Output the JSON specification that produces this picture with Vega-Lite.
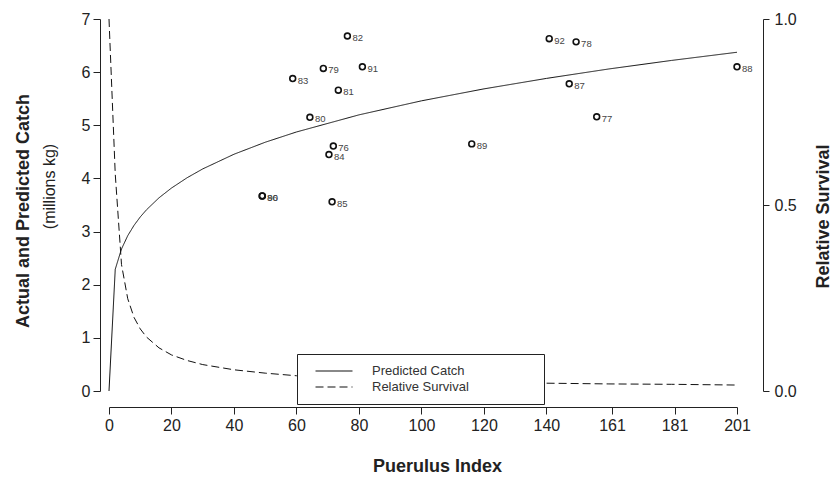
{
  "$schema": "https://vega.github.io/schema/vega-lite/v6.json",
  "width": 628,
  "height": 372,
  "autosize": {"type": "none"},
  "padding": {"left": 109, "top": 19, "right": 100, "bottom": 95},
  "background": "white",
  "config": {
    "view": {"stroke": null},
    "font": "Liberation Sans",
    "axis": {
      "grid": false,
      "domainColor": "#222",
      "tickColor": "#222",
      "labelColor": "#222",
      "titleColor": "#222",
      "labelFont": "Liberation Sans",
      "titleFont": "Liberation Sans",
      "labelFontSize": 16,
      "domainWidth": 1,
      "tickWidth": 1
    }
  },
  "title": {
    "text": "Actual and Predicted Catch",
    "orient": "left",
    "anchor": "middle",
    "font": "Liberation Sans",
    "fontSize": 18,
    "fontWeight": "bold",
    "color": "#222",
    "offset": 8,
    "dx": -6
  },
  "datasets": {
    "curve": [
      {"puerulus": 0, "catch": 0, "survival": 1},
      {"puerulus": 2, "catch": 2.291, "survival": 0.583},
      {"puerulus": 4, "catch": 2.672, "survival": 0.34},
      {"puerulus": 6, "catch": 2.923, "survival": 0.248},
      {"puerulus": 8, "catch": 3.116, "survival": 0.198},
      {"puerulus": 10, "catch": 3.275, "survival": 0.167},
      {"puerulus": 12, "catch": 3.41, "survival": 0.145},
      {"puerulus": 16, "catch": 3.635, "survival": 0.116},
      {"puerulus": 20, "catch": 3.819, "survival": 0.097},
      {"puerulus": 25, "catch": 4.013, "survival": 0.082},
      {"puerulus": 30, "catch": 4.179, "survival": 0.071},
      {"puerulus": 40, "catch": 4.455, "survival": 0.057},
      {"puerulus": 50, "catch": 4.681, "survival": 0.048},
      {"puerulus": 60, "catch": 4.874, "survival": 0.041},
      {"puerulus": 80, "catch": 5.196, "survival": 0.033},
      {"puerulus": 100, "catch": 5.46, "survival": 0.028},
      {"puerulus": 120, "catch": 5.685, "survival": 0.024},
      {"puerulus": 140, "catch": 5.882, "survival": 0.021},
      {"puerulus": 160, "catch": 6.06, "survival": 0.019},
      {"puerulus": 180, "catch": 6.22, "survival": 0.018},
      {"puerulus": 201, "catch": 6.374, "survival": 0.016}
    ],
    "years": [
      {"year": "76", "puerulus": 71.8, "catch": 4.61},
      {"year": "77", "puerulus": 156.1, "catch": 5.16},
      {"year": "78", "puerulus": 149.5, "catch": 6.57},
      {"year": "79", "puerulus": 68.6, "catch": 6.07},
      {"year": "80", "puerulus": 64.3, "catch": 5.15},
      {"year": "81", "puerulus": 73.4, "catch": 5.66},
      {"year": "82", "puerulus": 76.3, "catch": 6.68},
      {"year": "83", "puerulus": 58.8, "catch": 5.88},
      {"year": "84", "puerulus": 70.4, "catch": 4.45},
      {"year": "85", "puerulus": 71.4, "catch": 3.56},
      {"year": "86", "puerulus": 49.0, "catch": 3.67},
      {"year": "87", "puerulus": 147.3, "catch": 5.78},
      {"year": "88", "puerulus": 201.0, "catch": 6.1},
      {"year": "89", "puerulus": 116.1, "catch": 4.65},
      {"year": "90", "puerulus": 49.1, "catch": 3.67},
      {"year": "91", "puerulus": 81.1, "catch": 6.1},
      {"year": "92", "puerulus": 140.9, "catch": 6.63}
    ]
  },
  "layer": [
    {
      "layer": [
        {
          "data": {"name": "curve"},
          "mark": {"type": "line", "color": "#111", "strokeWidth": 1},
          "encoding": {
            "x": {
              "field": "puerulus",
              "type": "quantitative",
              "scale": {"domain": [0, 201], "nice": false, "zero": false},
              "axis": {
                "title": "Puerulus Index",
                "titleFontSize": 18,
                "titleFontWeight": "bold",
                "titleX": 328,
                "titleY": 59,
                "titleBaseline": "middle",
                "titleAlign": "center",
                "offset": 16,
                "values": [0, 20, 40, 60, 80, 100, 120, 140, 161, 181, 201],
                "format": "d",
                "tickSize": 7,
                "labelPadding": 3,
                "labelFlush": false
              }
            },
            "y": {
              "field": "catch",
              "type": "quantitative",
              "title": "(millions kg)",
              "scale": {"domain": [0, 7], "nice": false, "zero": true},
              "axis": {
                "orient": "left",
                "offset": 9,
                "values": [0, 1, 2, 3, 4, 5, 6, 7],
                "format": "d",
                "tickSize": 7,
                "labelPadding": 3,
                "labelFlush": false,
                "titleFontSize": 16,
                "titleFontWeight": "normal",
                "titleX": -51,
                "titleY": 167,
                "titleBaseline": "middle",
                "titleAlign": "center",
                "titleAngle": 270
              }
            },
            "strokeDash": {
              "datum": "Predicted Catch",
              "type": "nominal",
              "scale": {
                "domain": ["Predicted Catch", "Relative Survival"],
                "range": [[1, 0], [8, 4]]
              },
              "legend": {
                "title": null,
                "orient": "none",
                "legendX": 188,
                "legendY": 335,
                "fillColor": "white",
                "strokeColor": "#222",
                "padding": 10,
                "symbolOffset": 20,
                "symbolType": "M-3,0H3",
                "symbolSize": 152,
                "symbolStrokeWidth": 1.2,
                "symbolStrokeColor": "#111",
                "labelFont": "Liberation Sans",
                "labelFontSize": 13,
                "labelColor": "#333",
                "labelOffset": 31,
                "labelLimit": 400,
                "rowPadding": 2,
                "labelExpr": "datum.label + '\u00a0\u00a0\u00a0\u00a0\u00a0\u00a0\u00a0\u00a0\u00a0\u00a0\u00a0\u00a0\u00a0\u00a0\u00a0\u00a0\u00a0\u00a0\u200b'"
              }
            }
          }
        },
        {
          "data": {"name": "years"},
          "mark": {"type": "point", "shape": "circle", "filled": false, "color": "#111", "strokeWidth": 1.6, "size": 34, "opacity": 1},
          "encoding": {
            "x": {"field": "puerulus", "type": "quantitative"},
            "y": {"field": "catch", "type": "quantitative", "title": "(millions kg)"}
          }
        },
        {
          "data": {"name": "years"},
          "mark": {"type": "text", "align": "left", "baseline": "middle", "dx": 5, "dy": 2, "fontSize": 9.5, "font": "Liberation Sans", "color": "#444"},
          "encoding": {
            "x": {"field": "puerulus", "type": "quantitative"},
            "y": {"field": "catch", "type": "quantitative", "title": "(millions kg)"},
            "text": {"field": "year"}
          }
        }
      ]
    },
    {
      "data": {"name": "curve"},
      "mark": {"type": "line", "color": "#111", "strokeWidth": 1},
      "encoding": {
        "x": {"field": "puerulus", "type": "quantitative"},
        "y": {
          "field": "survival",
          "type": "quantitative",
          "scale": {"domain": [0, 1], "nice": false, "zero": true},
          "axis": {
            "orient": "right",
            "title": "Relative Survival",
            "offset": 26,
            "values": [0, 0.5, 1],
            "format": ".1f",
            "tickSize": 6,
            "labelPadding": 5,
            "labelFlush": false,
            "titleFontSize": 18,
            "titleFontWeight": "bold",
            "titleX": 60,
            "titleY": 197,
            "titleBaseline": "middle",
            "titleAlign": "center",
            "titleAngle": 270
          }
        },
        "strokeDash": {"datum": "Relative Survival", "type": "nominal"}
      }
    }
  ],
  "resolve": {"scale": {"y": "independent"}}
}
